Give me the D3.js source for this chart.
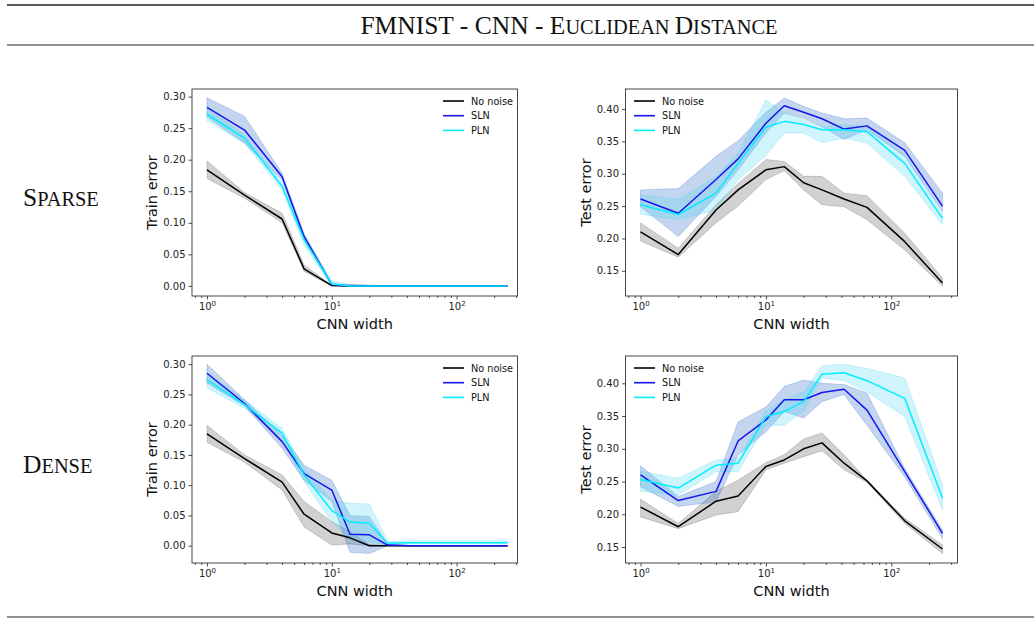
<!DOCTYPE html>
<html>
<head>
<meta charset="utf-8">
<script src="https://cdn.jsdelivr.net/npm/d3@7"></script>
<style>
  body { margin: 0; background: #fff; }
  svg { display: block; }
</style>
</head>
<body>
<svg width="1034" height="620"></svg>
<script>
// ---- data ----
const widths = [1, 2, 4, 6, 10, 14, 20, 28, 42, 64, 128, 256];
const seriesNames = ["No noise", "SLN", "PLN"];
const trainTicks = [0, 0.05, 0.10, 0.15, 0.20, 0.25, 0.30];
const testTicks = [0.15, 0.20, 0.25, 0.30, 0.35, 0.40];

// sparse - train
const sparseTrainNone   = [0.184, 0.144, 0.106, 0.027, 0.0005, 0, 0, 0, 0, 0, 0, 0];
const sparseTrainNoneLo = [0.170, 0.139, 0.100, 0.023, 0, 0, 0, 0, 0, 0, 0, 0];
const sparseTrainNoneHi = [0.198, 0.148, 0.115, 0.033, 0.001, 0.003, 0.001, 0, 0, 0, 0, 0];
const sparseTrainSln    = [0.283, 0.247, 0.173, 0.078, 0.002, 0, 0, 0, 0, 0, 0, 0];
const sparseTrainSlnLo  = [0.268, 0.226, 0.168, 0.073, 0, 0, 0, 0, 0, 0, 0, 0];
const sparseTrainSlnHi  = [0.298, 0.269, 0.178, 0.083, 0.004, 0.001, 0, 0, 0, 0, 0, 0];
const sparseTrainPln    = [0.272, 0.234, 0.158, 0.073, 0.003, 0, 0, 0, 0, 0, 0, 0];
const sparseTrainPlnLo  = [0.262, 0.226, 0.152, 0.065, 0, 0, 0, 0, 0, 0, 0, 0];
const sparseTrainPlnHi  = [0.280, 0.240, 0.163, 0.080, 0.008, 0.002, 0.001, 0, 0, 0, 0, 0];

// sparse - test
const sparseTestNone   = [0.210, 0.175, 0.244, 0.275, 0.306, 0.311, 0.286, 0.275, 0.261, 0.248, 0.195, 0.131];
const sparseTestNoneLo = [0.196, 0.171, 0.224, 0.250, 0.291, 0.305, 0.275, 0.252, 0.249, 0.229, 0.182, 0.126];
const sparseTestNoneHi = [0.224, 0.185, 0.252, 0.285, 0.322, 0.319, 0.296, 0.296, 0.270, 0.266, 0.208, 0.139];
const sparseTestSln    = [0.261, 0.239, 0.291, 0.323, 0.378, 0.405, 0.395, 0.385, 0.369, 0.374, 0.336, 0.250];
const sparseTestSlnLo  = [0.249, 0.203, 0.265, 0.306, 0.363, 0.394, 0.386, 0.373, 0.353, 0.368, 0.327, 0.242];
const sparseTestSlnHi  = [0.275, 0.277, 0.327, 0.351, 0.395, 0.417, 0.404, 0.394, 0.385, 0.386, 0.348, 0.270];
const sparseTestPln    = [0.252, 0.237, 0.270, 0.316, 0.372, 0.381, 0.376, 0.368, 0.368, 0.365, 0.316, 0.231];
const sparseTestPlnLo  = [0.237, 0.229, 0.244, 0.291, 0.328, 0.363, 0.363, 0.348, 0.355, 0.347, 0.296, 0.221];
const sparseTestPlnHi  = [0.268, 0.260, 0.296, 0.332, 0.414, 0.394, 0.384, 0.373, 0.376, 0.373, 0.329, 0.239];

// dense - train
const denseTrainNone   = [0.185, 0.144, 0.105, 0.052, 0.021, 0.013, 0, 0, 0, 0, 0, 0];
const denseTrainNoneLo = [0.171, 0.138, 0.092, 0.031, 0.001, 0.003, 0, 0, 0, 0, 0, 0];
const denseTrainNoneHi = [0.199, 0.150, 0.117, 0.073, 0.040, 0.023, 0.002, 0, 0, 0, 0, 0];
const denseTrainSln    = [0.285, 0.235, 0.172, 0.119, 0.092, 0.019, 0.018, 0.001, 0, 0, 0, 0];
const denseTrainSlnLo  = [0.269, 0.231, 0.161, 0.108, 0.073, -0.011, -0.013, 0, 0, 0, 0, 0];
const denseTrainSlnHi  = [0.300, 0.241, 0.182, 0.133, 0.108, 0.050, 0.048, 0.003, 0, 0, 0, 0];
const denseTrainPln    = [0.274, 0.233, 0.186, 0.117, 0.058, 0.039, 0.037, 0.004, 0.005, 0.005, 0.005, 0.005];
const denseTrainPlnLo  = [0.261, 0.227, 0.177, 0.106, 0.040, 0.010, 0.006, 0.001, 0.003, 0.003, 0.003, 0.003];
const denseTrainPlnHi  = [0.285, 0.241, 0.194, 0.128, 0.075, 0.070, 0.069, 0.007, 0.008, 0.008, 0.008, 0.008];

// dense - test
const denseTestNone   = [0.211, 0.181, 0.220, 0.228, 0.273, 0.283, 0.300, 0.309, 0.278, 0.251, 0.190, 0.147];
const denseTestNoneLo = [0.196, 0.178, 0.199, 0.204, 0.268, 0.278, 0.288, 0.297, 0.268, 0.249, 0.186, 0.140];
const denseTestNoneHi = [0.223, 0.186, 0.235, 0.252, 0.279, 0.291, 0.315, 0.324, 0.291, 0.252, 0.194, 0.153];
const denseTestSln    = [0.260, 0.221, 0.235, 0.312, 0.344, 0.375, 0.375, 0.386, 0.391, 0.359, 0.265, 0.171];
const denseTestSlnLo  = [0.242, 0.212, 0.219, 0.291, 0.326, 0.357, 0.347, 0.372, 0.383, 0.336, 0.257, 0.163];
const denseTestSlnHi  = [0.274, 0.227, 0.250, 0.341, 0.364, 0.395, 0.405, 0.400, 0.398, 0.385, 0.270, 0.176];
const denseTestPln    = [0.253, 0.240, 0.275, 0.278, 0.349, 0.357, 0.372, 0.414, 0.416, 0.404, 0.377, 0.225];
const denseTestPlnLo  = [0.235, 0.229, 0.265, 0.265, 0.336, 0.336, 0.357, 0.408, 0.404, 0.387, 0.349, 0.207];
const denseTestPlnHi  = [0.266, 0.255, 0.283, 0.285, 0.359, 0.375, 0.387, 0.427, 0.429, 0.423, 0.408, 0.246];

// ---- drawing ----
const svg = d3.select("svg");
const lineColors = ["#000000", "#1515ee", "#00eeff"];
const bandFill = ["#000000", "#3a74cc", "#49d6ef"];
const bandOpacity = [0.18, 0.3, 0.26];

const panels = [
  { box: [192, 517.5, 89, 296], xlog: [-0.12, 2.488], ydom: [-0.016, 0.312], ticks: trainTicks, ylabel: "Train error",
    mean: [sparseTrainNone, sparseTrainSln, sparseTrainPln],
    lo: [sparseTrainNoneLo, sparseTrainSlnLo, sparseTrainPlnLo],
    hi: [sparseTrainNoneHi, sparseTrainSlnHi, sparseTrainPlnHi], legend: [443, 101] },
  { box: [625.5, 957.5, 89, 296], xlog: [-0.12, 2.528], ydom: [0.111, 0.431], ticks: testTicks, ylabel: "Test error",
    mean: [sparseTestNone, sparseTestSln, sparseTestPln],
    lo: [sparseTestNoneLo, sparseTestSlnLo, sparseTestPlnLo],
    hi: [sparseTestNoneHi, sparseTestSlnHi, sparseTestPlnHi], legend: [634, 101] },
  { box: [192, 517.5, 356, 563], xlog: [-0.12, 2.488], ydom: [-0.0286, 0.3135], ticks: trainTicks, ylabel: "Train error",
    mean: [denseTrainNone, denseTrainSln, denseTrainPln],
    lo: [denseTrainNoneLo, denseTrainSlnLo, denseTrainPlnLo],
    hi: [denseTrainNoneHi, denseTrainSlnHi, denseTrainPlnHi], legend: [443, 368] },
  { box: [625.5, 957.5, 356, 563], xlog: [-0.12, 2.528], ydom: [0.1256, 0.4417], ticks: testTicks, ylabel: "Test error",
    mean: [denseTestNone, denseTestSln, denseTestPln],
    lo: [denseTestNoneLo, denseTestSlnLo, denseTestPlnLo],
    hi: [denseTestNoneHi, denseTestSlnHi, denseTestPlnHi], legend: [634, 368] }
];

const minorTicks = [];
[0.1, 1, 10, 100].forEach(p => { for (let k = 2; k <= 9; k++) minorTicks.push(k * p); });

function drawPanel(p) {
  const [x0, x1, y0, y1] = p.box;
  const x = d3.scaleLog().domain([10 ** p.xlog[0], 10 ** p.xlog[1]]).range([x0, x1]);
  const y = d3.scaleLinear().domain(p.ydom).range([y1, y0]);
  const g = svg.append("g");

  // clip so bands stay inside the axes
  const cid = "clip" + Math.round(x0) + "_" + Math.round(y0);
  g.append("clipPath").attr("id", cid)
    .append("rect").attr("x", x0).attr("y", y0).attr("width", x1 - x0).attr("height", y1 - y0);
  const plot = g.append("g").attr("clip-path", "url(#" + cid + ")");

  // bands
  p.mean.forEach((m, i) => {
    const area = d3.area()
      .x((d, j) => x(widths[j]))
      .y0((d, j) => y(p.lo[i][j]))
      .y1((d, j) => y(p.hi[i][j]));
    plot.append("path")
      .attr("d", area(m))
      .attr("fill", bandFill[i])
      .attr("fill-opacity", bandOpacity[i])
      .attr("stroke", bandFill[i])
      .attr("stroke-opacity", bandOpacity[i] * 0.9)
      .attr("stroke-width", 1);
  });

  // mean lines
  p.mean.forEach((m, i) => {
    const line = d3.line().x((d, j) => x(widths[j])).y(d => y(d));
    plot.append("path")
      .attr("d", line(m))
      .attr("fill", "none")
      .attr("stroke", lineColors[i])
      .attr("stroke-width", 1.5)
      .attr("stroke-linejoin", "round");
  });

  // x axis (log) with major + minor ticks
  const xMajor = g.append("g").attr("transform", "translate(0," + y1 + ")")
    .call(d3.axisBottom(x).tickValues([1, 10, 100]).tickSize(3.5).tickSizeOuter(0).tickPadding(3));
  xMajor.selectAll(".tick text").each(function (d) {
    const t = d3.select(this);
    t.text("10");
    t.append("tspan").attr("dy", "-0.5em").attr("font-size", "7px").text(Math.round(Math.log10(d)));
  });
  const xs = x.domain();
  g.append("g").attr("transform", "translate(0," + y1 + ")")
    .call(d3.axisBottom(x).tickValues(minorTicks.filter(v => v >= xs[0] && v <= xs[1]))
      .tickSize(2).tickSizeOuter(0).tickFormat(""));

  g.append("g").attr("transform", "translate(" + x0 + ",0)")
    .call(d3.axisLeft(y).tickValues(p.ticks).tickFormat(d3.format(".2f")).tickSize(3.5).tickSizeOuter(0).tickPadding(3));

  g.selectAll(".domain").remove();
  g.selectAll(".tick line").attr("stroke", "#222").attr("stroke-width", 0.8);
  g.selectAll(".tick text").attr("font-family", "DejaVu Sans").attr("font-size", "10px").attr("fill", "#222");

  // frame
  g.append("rect").attr("x", x0).attr("y", y0).attr("width", x1 - x0).attr("height", y1 - y0)
    .attr("fill", "none").attr("stroke", "#333").attr("stroke-width", 0.9);

  // axis labels
  g.append("text").attr("x", (x0 + x1) / 2).attr("y", y1 + 33)
    .attr("text-anchor", "middle").attr("font-family", "DejaVu Sans").attr("font-size", "14.5px")
    .attr("fill", "#111").text("CNN width");
  g.append("text")
    .attr("transform", "translate(" + (x0 - 35) + "," + (y0 + y1) / 2 + ") rotate(-90)")
    .attr("text-anchor", "middle").attr("font-family", "DejaVu Sans").attr("font-size", "14.5px")
    .attr("fill", "#111").text(p.ylabel);

  // legend
  const [lx, ly] = p.legend;
  seriesNames.forEach((name, i) => {
    const yy = ly + i * 14.7;
    g.append("line").attr("x1", lx).attr("x2", lx + 21).attr("y1", yy).attr("y2", yy)
      .attr("stroke", lineColors[i]).attr("stroke-width", 1.6);
    g.append("text").attr("x", lx + 28).attr("y", yy + 3.5)
      .attr("font-family", "DejaVu Sans").attr("font-size", "9.7px").attr("fill", "#111").text(name);
  });
}

panels.forEach(drawPanel);

// table rules and captions
[[5, 1.4], [45, 1.2], [617, 1.2]].forEach(([yy, w]) => {
  svg.append("line").attr("x1", 7).attr("x2", 1034).attr("y1", yy).attr("y2", yy)
    .attr("stroke", "#222").attr("stroke-width", w);
});

function smallCaps(sel, parts, big, small) {
  parts.forEach(([txt, isBig]) => {
    sel.append("tspan").attr("font-size", (isBig ? big : small) + "px").text(txt);
  });
}

const title = svg.append("text").attr("x", 569).attr("y", 34).attr("text-anchor", "middle")
  .attr("font-family", "Liberation Serif").attr("fill", "#111");
smallCaps(title, [["FMNIST - CNN - ", true], ["E", true], ["UCLIDEAN ", false], ["D", true], ["ISTANCE", false]], 25.5, 20.4);

const rowLabels = [["S", "PARSE", 206], ["D", "ENSE", 473]];
rowLabels.forEach(([a, b, yy]) => {
  const t = svg.append("text").attr("x", 23).attr("y", yy)
    .attr("font-family", "Liberation Serif").attr("fill", "#111");
  smallCaps(t, [[a, true], [b, false]], 25.5, 20.4);
});
</script>
</body>
</html>
